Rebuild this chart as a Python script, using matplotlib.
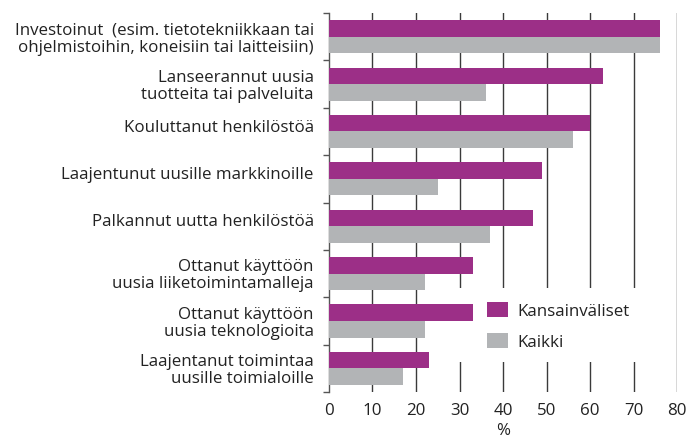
import matplotlib.pyplot as plt
import numpy as np
from matplotlib.patches import Rectangle

# data
labels = [
    "Investoinut  (esim. tietotekniikkaan tai\nohjelmistoihin, koneisiin tai laitteisiin)",
    "Lanseerannut uusia\ntuotteita tai palveluita",
    "Kouluttanut henkilöstöä",
    "Laajentunut uusille markkinoille",
    "Palkannut uutta henkilöstöä",
    "Ottanut käyttöön\nuusia liiketoimintamalleja",
    "Ottanut käyttöön\nuusia teknologioita",
    "Laajentanut toimintaa\nuusille toimialoille",
]
kansainvaliset = [76, 63, 60, 49, 47, 33, 33, 23]
kaikki = [76, 36, 56, 25, 37, 22, 22, 17]
xticks = [0, 10, 20, 30, 40, 50, 60, 70, 80]

magenta = "#9c2f87"
grey = "#b2b4b6"
fs = 12.2

plt.rcParams['font.family'] = ['Open Sans', 'DejaVu Sans']
fig = plt.figure(figsize=(6.9, 4.39), dpi=100)
ax = fig.add_axes([0.4768, 0.1048, 0.5044, 0.8632])

y = np.arange(len(labels))
h = 0.35
ax.barh(y - h / 2, kansainvaliset, height=h, color=magenta, zorder=3, label="Kansainväliset")
ax.barh(y + h / 2, kaikki, height=h, color=grey, zorder=3, label="Kaikki")

ax.set_xlim(0, 80)
ax.set_ylim(len(labels) - 0.5, -0.5)

# vertical gridlines
for t in xticks[1:]:
    ax.axvline(t, color="#3a3a3a", lw=1, zorder=0)

# white box behind the legend hides the gridlines
ax.add_patch(Rectangle((0.36, 0.08), 0.57, 0.195, transform=ax.transAxes,
                       facecolor="white", edgecolor="none", zorder=1))

# y labels: single lines sit by the magenta bar
ypos = [i - 0.03 if "\n" in lab else i - h / 2 + 0.03 for i, lab in enumerate(labels)]
ax.set_yticks(ypos)
ax.set_yticklabels(labels, fontsize=fs, color="#222222", linespacing=1.1)
ax.tick_params(axis="y", which="major", length=0, pad=11)
ax.set_yticks(np.arange(-0.5, len(labels)), minor=True)
ax.tick_params(axis="y", which="minor", length=4, width=1, color="#555555")

ax.set_xticks(xticks)
ax.tick_params(axis="x", length=0, pad=7, labelsize=fs, labelcolor="#222222")
ax.set_xlabel("%", fontsize=fs, color="#222222", labelpad=3)

for s in ["top", "right", "bottom"]:
    ax.spines[s].set_visible(False)
ax.spines["left"].set_color("#555555")
ax.spines["left"].set_linewidth(1)

leg = ax.legend(loc="upper left", bbox_to_anchor=(0.454, 0.238), frameon=False,
                fontsize=fs, handlelength=1.25, handleheight=1.0,
                handletextpad=0.55, labelspacing=0.8, borderpad=0, borderaxespad=0)
leg.set_zorder(4)
for t in leg.get_texts():
    t.set_color("#222222")

fig.savefig("out.png", dpi=100)
